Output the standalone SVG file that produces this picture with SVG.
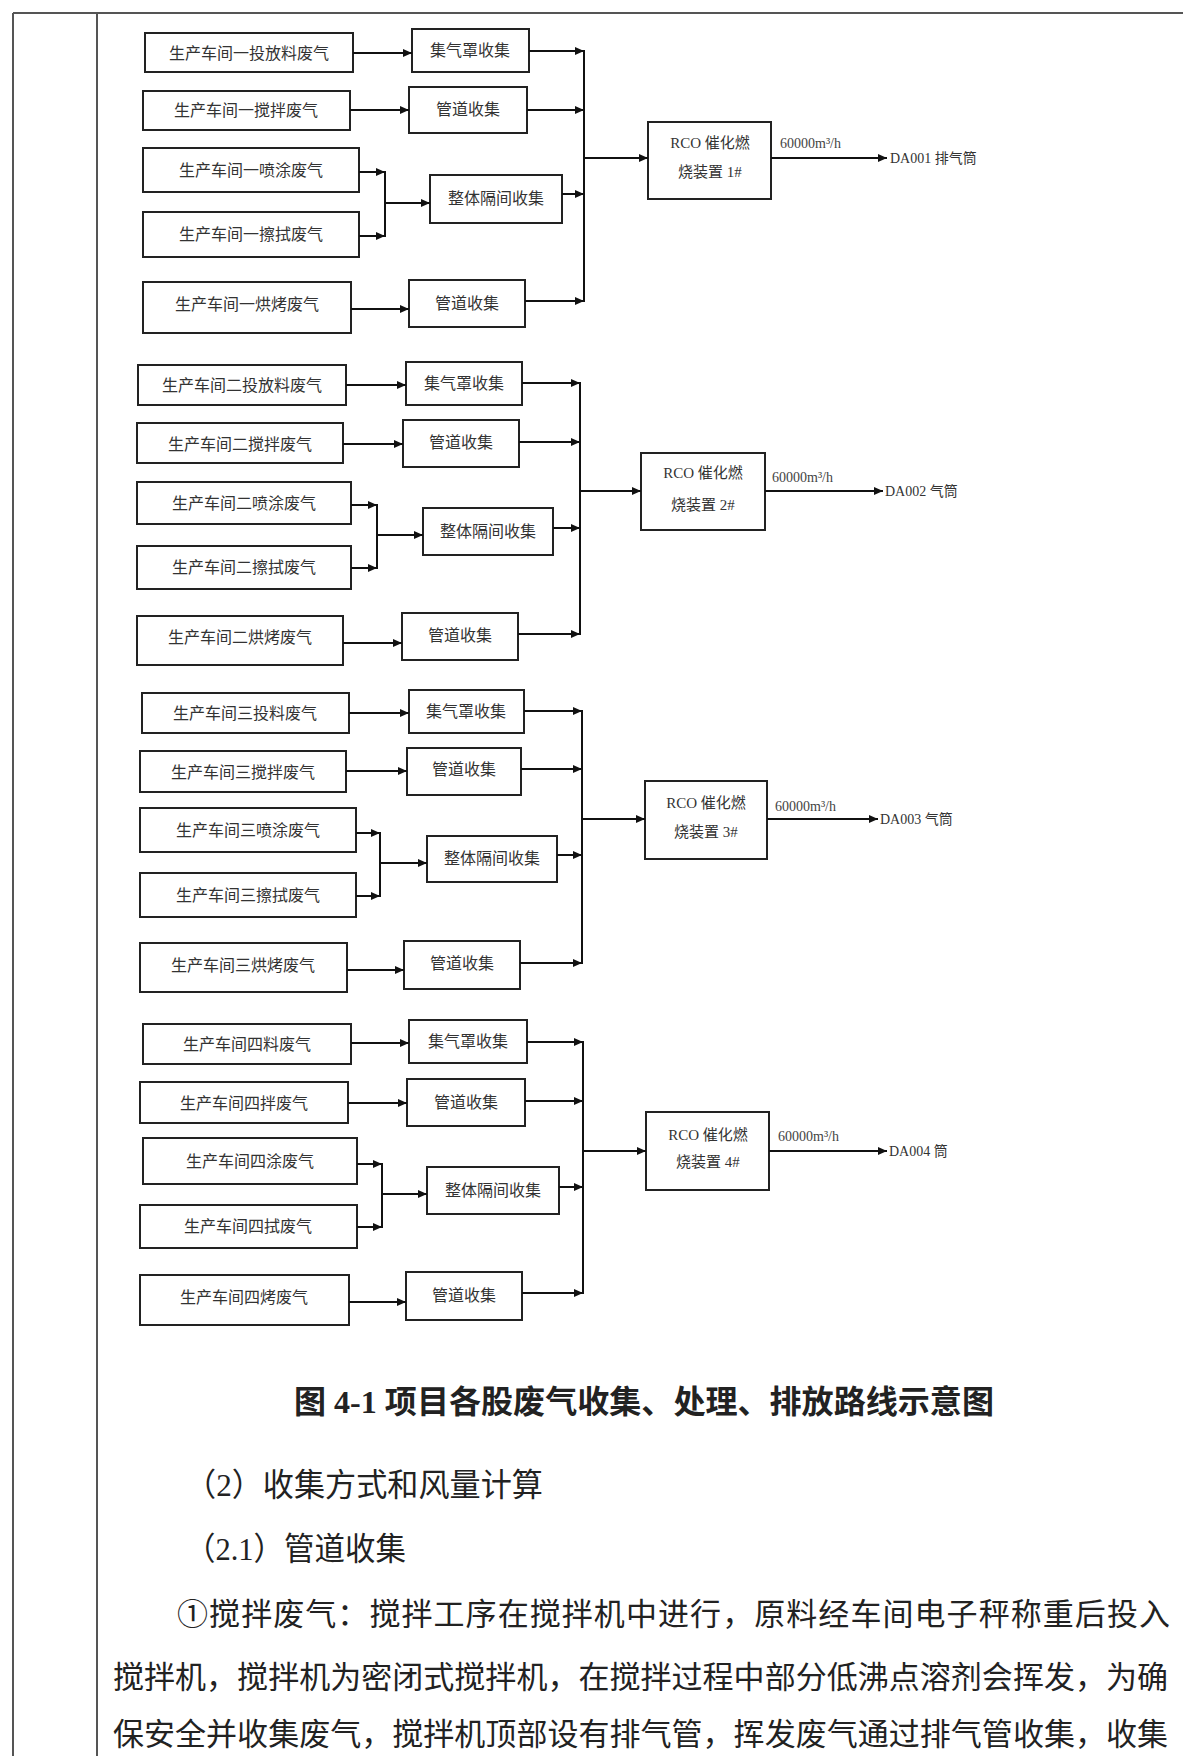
<svg xmlns="http://www.w3.org/2000/svg" width="1183" height="1756" viewBox="0 0 1183 1756">
<style>
.frame{stroke:#555;stroke-width:2;fill:none}
.box{fill:#fff;stroke:#222;stroke-width:2}
.lbl{font-family:"Noto Sans CJK SC",sans-serif;font-size:16px;fill:#333;text-anchor:middle}
.eco{font-family:"Liberation Serif","Noto Sans CJK SC",serif;font-size:15px;fill:#333;text-anchor:middle}
.flow{font-family:"Liberation Serif","Noto Sans CJK SC",serif;font-size:14px;fill:#444}
.out{font-family:"Liberation Serif","Noto Sans CJK SC",serif;font-size:14px;fill:#333}
.ln{stroke:#111;stroke-width:2;fill:none}
.ar{stroke:#111;stroke-width:2;fill:none;marker-end:url(#ah)}
.title{font-family:"Liberation Serif","Noto Sans CJK SC",serif;font-size:32px;font-weight:700;fill:#222}
.body{font-family:"Liberation Serif","Noto Sans CJK SC",serif;font-size:32px;fill:#222}
.para{font-family:"Liberation Serif","Noto Sans CJK SC",serif;font-size:31px;fill:#222}
</style>
<defs>
<marker id="ah" markerUnits="userSpaceOnUse" markerWidth="9" markerHeight="8" refX="9" refY="4" orient="auto">
<path d="M0,0 L9,4 L0,8 z" fill="#111"/>
</marker>
</defs>
<rect width="1183" height="1756" fill="#fff"/>
<g id="frame">
<line class="frame" x1="13" y1="13" x2="1183" y2="13"/>
<line class="frame" x1="13" y1="13" x2="13" y2="1756"/>
<line class="frame" x1="97" y1="13" x2="97" y2="1756"/>
</g>

<!-- Group 1 -->
<g id="g1-a1"><rect class="box" x="145" y="33" width="208" height="39"/><text class="lbl" x="249" y="59">生产车间一投放料废气</text></g>
<g id="g1-a2"><rect class="box" x="143" y="91" width="207" height="39"/><text class="lbl" x="246" y="116">生产车间一搅拌废气</text></g>
<g id="g1-a3"><rect class="box" x="143" y="148" width="216" height="44"/><text class="lbl" x="251" y="176">生产车间一喷涂废气</text></g>
<g id="g1-a4"><rect class="box" x="143" y="212" width="216" height="45"/><text class="lbl" x="251" y="240">生产车间一擦拭废气</text></g>
<g id="g1-a5"><rect class="box" x="143" y="282" width="208" height="51"/><text class="lbl" x="247" y="310">生产车间一烘烤废气</text></g>
<g id="g1-b1"><rect class="box" x="412" y="29" width="117" height="43"/><text class="lbl" x="470" y="56">集气罩收集</text></g>
<g id="g1-b2"><rect class="box" x="409" y="87" width="118" height="46"/><text class="lbl" x="468" y="115">管道收集</text></g>
<g id="g1-b3"><rect class="box" x="430" y="175" width="132" height="48"/><text class="lbl" x="496" y="204">整体隔间收集</text></g>
<g id="g1-b5"><rect class="box" x="409" y="280" width="116" height="47"/><text class="lbl" x="467" y="309">管道收集</text></g>
<g id="g1-eco"><rect class="box" x="648" y="122" width="123" height="77"/><text class="eco" x="710" y="148">RCO 催化燃</text><text class="eco" x="710" y="177">烧装置 1#</text></g>
<g id="g1-out"><text class="flow" x="780" y="148">60000m³/h</text><text class="out" x="890" y="163">DA001 排气筒</text></g>

<!-- Group 2 -->
<g id="g2-a1"><rect class="box" x="138" y="365" width="208" height="40"/><text class="lbl" x="242" y="391">生产车间二投放料废气</text></g>
<g id="g2-a2"><rect class="box" x="137" y="423" width="206" height="40"/><text class="lbl" x="240" y="450">生产车间二搅拌废气</text></g>
<g id="g2-a3"><rect class="box" x="137" y="482" width="214" height="42"/><text class="lbl" x="244" y="509">生产车间二喷涂废气</text></g>
<g id="g2-a4"><rect class="box" x="137" y="546" width="214" height="43"/><text class="lbl" x="244" y="573">生产车间二擦拭废气</text></g>
<g id="g2-a5"><rect class="box" x="137" y="616" width="206" height="49"/><text class="lbl" x="240" y="643">生产车间二烘烤废气</text></g>
<g id="g2-b1"><rect class="box" x="406" y="362" width="116" height="43"/><text class="lbl" x="464" y="389">集气罩收集</text></g>
<g id="g2-b2"><rect class="box" x="403" y="420" width="116" height="47"/><text class="lbl" x="461" y="448">管道收集</text></g>
<g id="g2-b3"><rect class="box" x="423" y="508" width="130" height="47"/><text class="lbl" x="488" y="537">整体隔间收集</text></g>
<g id="g2-b5"><rect class="box" x="402" y="613" width="116" height="47"/><text class="lbl" x="460" y="641">管道收集</text></g>
<g id="g2-eco"><rect class="box" x="641" y="453" width="124" height="77"/><text class="eco" x="703" y="478">RCO 催化燃</text><text class="eco" x="703" y="510">烧装置 2#</text></g>
<g id="g2-out"><text class="flow" x="772" y="482">60000m³/h</text><text class="out" x="885" y="496">DA002 气筒</text></g>

<!-- Group 3 -->
<g id="g3-a1"><rect class="box" x="142" y="693" width="207" height="40"/><text class="lbl" x="245" y="719">生产车间三投料废气</text></g>
<g id="g3-a2"><rect class="box" x="140" y="751" width="206" height="41"/><text class="lbl" x="243" y="778">生产车间三搅拌废气</text></g>
<g id="g3-a3"><rect class="box" x="140" y="808" width="216" height="44"/><text class="lbl" x="248" y="836">生产车间三喷涂废气</text></g>
<g id="g3-a4"><rect class="box" x="140" y="873" width="216" height="44"/><text class="lbl" x="248" y="901">生产车间三擦拭废气</text></g>
<g id="g3-a5"><rect class="box" x="140" y="943" width="207" height="49"/><text class="lbl" x="243" y="971">生产车间三烘烤废气</text></g>
<g id="g3-b1"><rect class="box" x="409" y="690" width="115" height="43"/><text class="lbl" x="466" y="717">集气罩收集</text></g>
<g id="g3-b2"><rect class="box" x="407" y="748" width="114" height="47"/><text class="lbl" x="464" y="775">管道收集</text></g>
<g id="g3-b3"><rect class="box" x="427" y="836" width="130" height="46"/><text class="lbl" x="492" y="864">整体隔间收集</text></g>
<g id="g3-b5"><rect class="box" x="404" y="941" width="116" height="48"/><text class="lbl" x="462" y="969">管道收集</text></g>
<g id="g3-eco"><rect class="box" x="645" y="781" width="122" height="78"/><text class="eco" x="706" y="808">RCO 催化燃</text><text class="eco" x="706" y="837">烧装置 3#</text></g>
<g id="g3-out"><text class="flow" x="775" y="811">60000m³/h</text><text class="out" x="880" y="824">DA003 气筒</text></g>

<!-- Group 4 -->
<g id="g4-a1"><rect class="box" x="143" y="1024" width="208" height="40"/><text class="lbl" x="247" y="1050">生产车间四料废气</text></g>
<g id="g4-a2"><rect class="box" x="140" y="1082" width="208" height="41"/><text class="lbl" x="244" y="1109">生产车间四拌废气</text></g>
<g id="g4-a3"><rect class="box" x="143" y="1138" width="214" height="46"/><text class="lbl" x="250" y="1167">生产车间四涂废气</text></g>
<g id="g4-a4"><rect class="box" x="140" y="1205" width="217" height="43"/><text class="lbl" x="248" y="1232">生产车间四拭废气</text></g>
<g id="g4-a5"><rect class="box" x="140" y="1275" width="209" height="50"/><text class="lbl" x="244" y="1303">生产车间四烤废气</text></g>
<g id="g4-b1"><rect class="box" x="409" y="1020" width="118" height="43"/><text class="lbl" x="468" y="1047">集气罩收集</text></g>
<g id="g4-b2"><rect class="box" x="407" y="1079" width="118" height="47"/><text class="lbl" x="466" y="1108">管道收集</text></g>
<g id="g4-b3"><rect class="box" x="427" y="1167" width="132" height="47"/><text class="lbl" x="493" y="1196">整体隔间收集</text></g>
<g id="g4-b5"><rect class="box" x="406" y="1272" width="116" height="48"/><text class="lbl" x="464" y="1301">管道收集</text></g>
<g id="g4-eco"><rect class="box" x="646" y="1112" width="123" height="78"/><text class="eco" x="708" y="1140">RCO 催化燃</text><text class="eco" x="708" y="1167">烧装置 4#</text></g>
<g id="g4-out"><text class="flow" x="778" y="1141">60000m³/h</text><text class="out" x="889" y="1156">DA004 筒</text></g>

<g id="connectors">
<!-- group 1 -->
<line class="ar" x1="353" y1="53" x2="412" y2="53"/>
<line class="ar" x1="350" y1="110" x2="409" y2="110"/>
<line class="ar" x1="359" y1="172" x2="385" y2="172"/>
<line class="ar" x1="359" y1="236" x2="385" y2="236"/>
<line class="ln" x1="385" y1="171" x2="385" y2="237"/>
<line class="ar" x1="385" y1="203" x2="430" y2="203"/>
<line class="ar" x1="351" y1="309" x2="409" y2="309"/>
<line class="ar" x1="529" y1="51" x2="584" y2="51"/>
<line class="ar" x1="527" y1="110" x2="584" y2="110"/>
<line class="ar" x1="562" y1="194" x2="584" y2="194"/>
<line class="ar" x1="525" y1="301" x2="584" y2="301"/>
<line class="ln" x1="584" y1="50" x2="584" y2="302"/>
<line class="ar" x1="584" y1="158" x2="648" y2="158"/>
<line class="ar" x1="771" y1="158" x2="887" y2="158"/>
<!-- group 2 -->
<line class="ar" x1="346" y1="385" x2="406" y2="385"/>
<line class="ar" x1="343" y1="444" x2="403" y2="444"/>
<line class="ar" x1="351" y1="505" x2="377" y2="505"/>
<line class="ar" x1="351" y1="568" x2="377" y2="568"/>
<line class="ln" x1="377" y1="504" x2="377" y2="569"/>
<line class="ar" x1="377" y1="535" x2="423" y2="535"/>
<line class="ar" x1="343" y1="643" x2="402" y2="643"/>
<line class="ar" x1="522" y1="383" x2="580" y2="383"/>
<line class="ar" x1="519" y1="442" x2="580" y2="442"/>
<line class="ar" x1="553" y1="528" x2="580" y2="528"/>
<line class="ar" x1="518" y1="634" x2="580" y2="634"/>
<line class="ln" x1="580" y1="382" x2="580" y2="635"/>
<line class="ar" x1="580" y1="491" x2="641" y2="491"/>
<line class="ar" x1="765" y1="491" x2="883" y2="491"/>
<!-- group 3 -->
<line class="ar" x1="349" y1="713" x2="409" y2="713"/>
<line class="ar" x1="346" y1="771" x2="407" y2="771"/>
<line class="ar" x1="356" y1="833" x2="380" y2="833"/>
<line class="ar" x1="356" y1="896" x2="380" y2="896"/>
<line class="ln" x1="380" y1="832" x2="380" y2="897"/>
<line class="ar" x1="380" y1="863" x2="427" y2="863"/>
<line class="ar" x1="347" y1="970" x2="404" y2="970"/>
<line class="ar" x1="524" y1="711" x2="582" y2="711"/>
<line class="ar" x1="521" y1="769" x2="582" y2="769"/>
<line class="ar" x1="557" y1="855" x2="582" y2="855"/>
<line class="ar" x1="520" y1="963" x2="582" y2="963"/>
<line class="ln" x1="582" y1="710" x2="582" y2="964"/>
<line class="ar" x1="582" y1="819" x2="645" y2="819"/>
<line class="ar" x1="767" y1="819" x2="878" y2="819"/>
<!-- group 4 -->
<line class="ar" x1="351" y1="1043" x2="409" y2="1043"/>
<line class="ar" x1="348" y1="1103" x2="407" y2="1103"/>
<line class="ar" x1="357" y1="1164" x2="382" y2="1164"/>
<line class="ar" x1="357" y1="1227" x2="382" y2="1227"/>
<line class="ln" x1="382" y1="1163" x2="382" y2="1228"/>
<line class="ar" x1="382" y1="1194" x2="427" y2="1194"/>
<line class="ar" x1="349" y1="1302" x2="406" y2="1302"/>
<line class="ar" x1="527" y1="1042" x2="583" y2="1042"/>
<line class="ar" x1="525" y1="1101" x2="583" y2="1101"/>
<line class="ar" x1="559" y1="1187" x2="583" y2="1187"/>
<line class="ar" x1="522" y1="1293" x2="583" y2="1293"/>
<line class="ln" x1="583" y1="1041" x2="583" y2="1294"/>
<line class="ar" x1="583" y1="1151" x2="646" y2="1151"/>
<line class="ar" x1="769" y1="1151" x2="887" y2="1151"/>
</g>

<g id="caption">
<text class="title" x="294" y="1413" textLength="700" lengthAdjust="spacingAndGlyphs">图 4-1 项目各股废气收集、处理、排放路线示意图</text>
<text class="body" x="185" y="1496" textLength="358" lengthAdjust="spacingAndGlyphs">（2）收集方式和风量计算</text>
<text class="body" x="185" y="1560" textLength="221" lengthAdjust="spacingAndGlyphs">（2.1）管道收集</text>
<text class="para" x="177" y="1625" textLength="993" lengthAdjust="spacing">①搅拌废气：搅拌工序在搅拌机中进行，原料经车间电子秤称重后投入</text>
<text class="para" x="113" y="1688" textLength="1055" lengthAdjust="spacing">搅拌机，搅拌机为密闭式搅拌机，在搅拌过程中部分低沸点溶剂会挥发，为确</text>
<text class="para" x="113" y="1745" textLength="1055" lengthAdjust="spacing">保安全并收集废气，搅拌机顶部设有排气管，挥发废气通过排气管收集，收集</text>
</g>
</svg>
